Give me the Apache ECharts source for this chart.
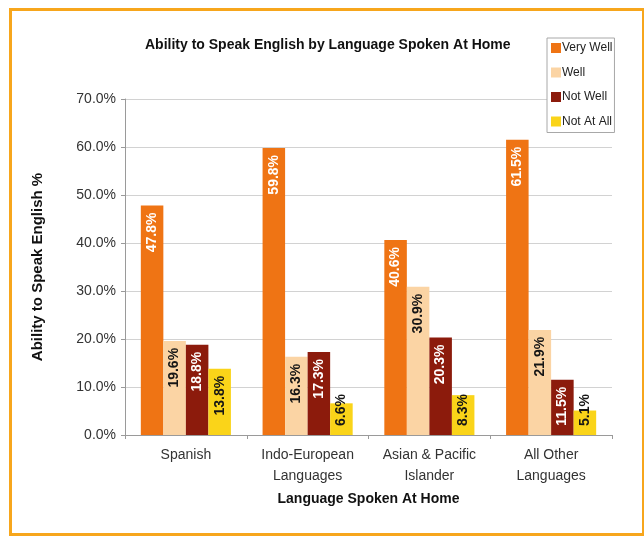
<!DOCTYPE html>
<html>
<head>
<meta charset="utf-8">
<script src="https://cdn.jsdelivr.net/npm/echarts@6/dist/echarts.min.js"></script>
<style>
  html, body { margin: 0; padding: 0; background: #fff; }
  #chart { width: 644px; height: 537px; }
</style>
</head>
<body>
<div id="chart"></div>
<script>
// Language groups along the x axis
const categories = ['Spanish', 'Indo-European\nLanguages', 'Asian & Pacific\nIslander', 'All Other\nLanguages'];

// Share of speakers (%) by self-reported English ability
const veryWell = [47.8, 59.8, 40.6, 61.5];
const well     = [19.6, 16.3, 30.9, 21.9];
const notWell  = [18.8, 17.3, 20.3, 11.5];
const notAtAll = [13.8, 6.6, 8.3, 5.1];

const seriesNames = ['Very Well', 'Well', 'Not Well', 'Not At All'];
const yTicks = [0, 10, 20, 30, 40, 50, 60, 70];

const FONT = '"Liberation Sans", Arial, sans-serif';
const colors = ['#EF7414', '#FBD4A4', '#8C1B0C', '#FAD419'];
const labelColors = ['#ffffff', '#151515', '#ffffff', '#151515'];

// Value labels run bottom-to-top near the bar end; short bars keep them near the base
function barData(values) {
  return values.map(v => {
    const shortBar = v < 10;
    return {
      value: v,
      label: shortBar
        ? { position: 'insideBottom', align: 'left', distance: 9 }
        : { position: 'insideTop', align: 'right', distance: 7 }
    };
  });
}

function makeSeries(name, values, idx) {
  return {
    name: name,
    type: 'bar',
    data: barData(values),
    itemStyle: { color: colors[idx] },
    barGap: '0%',
    barCategoryGap: '26%',
    label: {
      show: true,
      rotate: 90,
      verticalAlign: 'middle',
      color: labelColors[idx],
      fontFamily: FONT,
      fontWeight: 'bold',
      fontSize: 14,
      formatter: p => p.value.toFixed(1) + '%'
    }
  };
}

const chart = echarts.init(document.getElementById('chart'), null, { renderer: 'canvas' });

chart.setOption({
  animation: false,
  backgroundColor: '#ffffff',
  title: {
    text: 'Ability to Speak English by Language Spoken At Home',
    left: 145,
    top: 38,
    padding: 0,
    textStyle: { fontFamily: FONT, fontSize: 14, fontWeight: 'bold', color: '#111' }
  },
  legend: {
    orient: 'vertical',
    left: 547,
    top: 38,
    width: 70,
    padding: [3, 2, 4, 4],
    itemWidth: 10,
    itemHeight: 10,
    itemGap: 10.5,
    backgroundColor: '#ffffff',
    borderColor: '#a8a8a8',
    borderWidth: 1,
    icon: 'rect',
    data: seriesNames,
    textStyle: {
      fontFamily: FONT,
      fontSize: 12,
      color: '#222',
      lineHeight: 14,
      padding: [0, 0, 0, -4]
    }
  },
  grid: { left: 125, right: 32, top: 99, bottom: 102 },
  xAxis: {
    type: 'category',
    data: categories,
    name: 'Language Spoken At Home',
    nameLocation: 'middle',
    nameGap: 55,
    nameTextStyle: { fontFamily: FONT, fontSize: 14, fontWeight: 'bold', color: '#111' },
    axisLine: { lineStyle: { color: '#9a9a9a', width: 1 } },
    axisTick: { show: true, length: 4, lineStyle: { color: '#9a9a9a' } },
    axisLabel: {
      fontFamily: FONT,
      fontSize: 14,
      color: '#333',
      lineHeight: 21,
      margin: 10,
      interval: 0
    }
  },
  yAxis: {
    type: 'value',
    min: yTicks[0],
    max: yTicks[yTicks.length - 1],
    interval: 10,
    name: 'Ability to Speak English %',
    nameLocation: 'middle',
    nameGap: 80,
    nameTextStyle: { fontFamily: FONT, fontSize: 15, fontWeight: 'bold', color: '#111' },
    axisLine: { show: true, lineStyle: { color: '#9a9a9a', width: 1 } },
    axisTick: { show: true, length: 4, lineStyle: { color: '#9a9a9a' } },
    splitLine: { show: true, lineStyle: { color: '#d2d2d2', width: 1 } },
    axisLabel: {
      fontFamily: FONT,
      fontSize: 14,
      color: '#333',
      margin: 9,
      formatter: v => v.toFixed(1) + '%'
    }
  },
  graphic: [{
    type: 'rect',
    silent: true,
    z: 100,
    shape: { x: 10.5, y: 9.5, width: 633, height: 525 },
    style: { fill: 'none', stroke: '#F7A61C', lineWidth: 3 }
  }],
  series: [
    makeSeries(seriesNames[0], veryWell, 0),
    makeSeries(seriesNames[1], well, 1),
    makeSeries(seriesNames[2], notWell, 2),
    makeSeries(seriesNames[3], notAtAll, 3)
  ]
});
</script>
</body>
</html>
